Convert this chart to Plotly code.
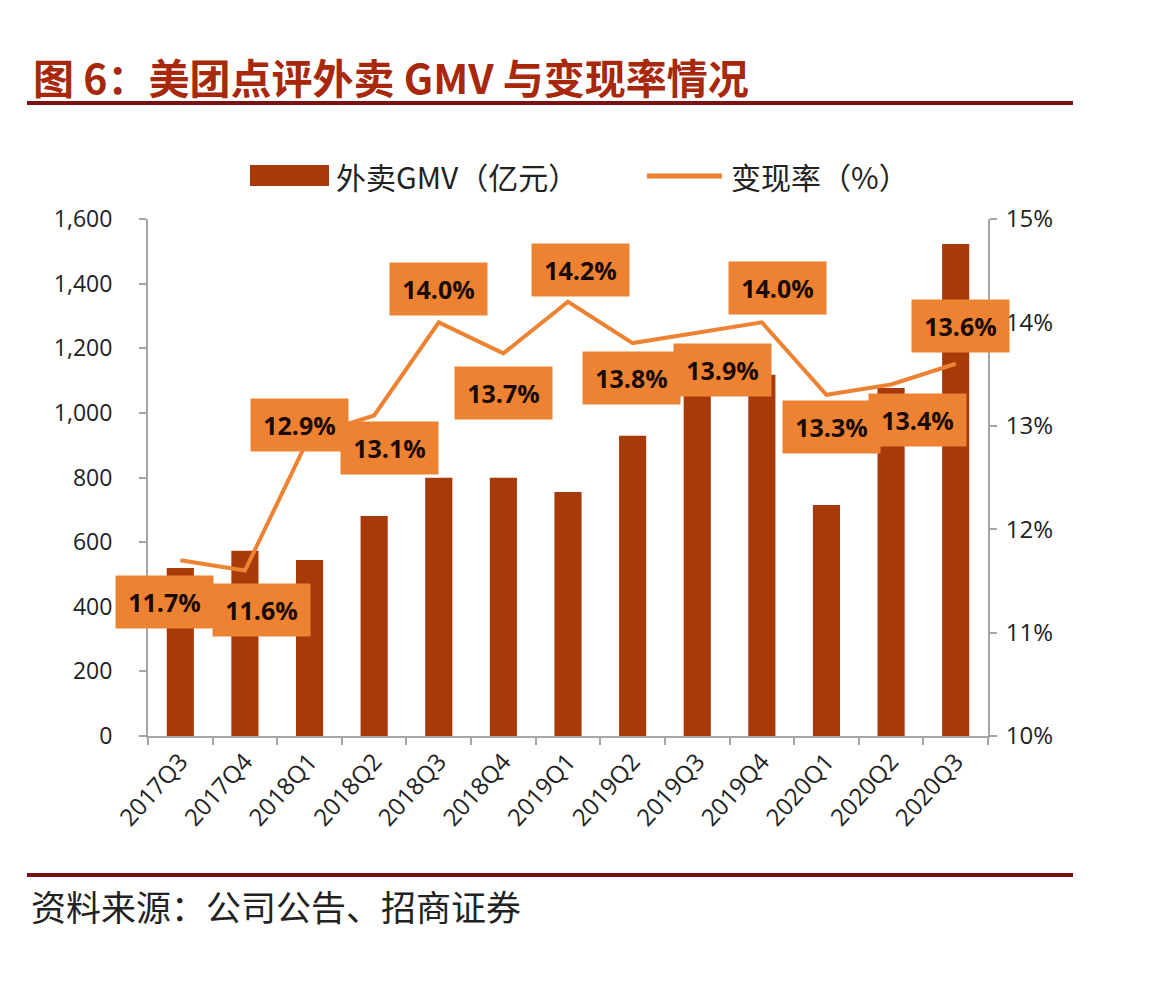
import plotly.graph_objects as go

categories = ["2017Q3", "2017Q4", "2018Q1", "2018Q2", "2018Q3", "2018Q4", "2019Q1",
              "2019Q2", "2019Q3", "2019Q4", "2020Q1", "2020Q2", "2020Q3"]
gmv = [520, 573, 545, 681, 799, 799, 755, 929, 1080, 1118, 715, 1077, 1523]
rate = [11.7, 11.6, 12.9, 13.1, 14.0, 13.7, 14.2, 13.8, 13.9, 14.0, 13.3, 13.4, 13.6]
rate_labels = ["11.7%", "11.6%", "12.9%", "13.1%", "14.0%", "13.7%", "14.2%",
               "13.8%", "13.9%", "14.0%", "13.3%", "13.4%", "13.6%"]
left_ticks = [0, 200, 400, 600, 800, 1000, 1200, 1400, 1600]
right_ticks = [10, 11, 12, 13, 14, 15]
right_tick_text = ["10%", "11%", "12%", "13%", "14%", "15%"]

# label offsets (pixels) relative to the data point
label_dx = [-16, 17, -10, 15, 0, 0, 12, -1, 25, 16, 5, 26, 5]
label_dy = [-42, -39, 11, -33, 33, -40, 32, -35, -37, 34, -32, -36, 38]

BAR = "#A83A0A"
ORANGE = "#EE8233"
AXIS = "#A6A6A6"
FONT = "Noto Sans CJK SC"

# page geometry (page has an 8px body margin)
OFF = 8
W, H = 1162 - 2 * OFF, 994 - 2 * OFF
L, R, T, B = 148, 988, 219, 736  # plot area in page pixels


def px(x):
    return (x - L) / (R - L)


def py(y):
    return (B - y) / (B - T)


fig = go.Figure()
fig.add_trace(go.Bar(x=categories, y=gmv, name="外卖GMV（亿元）", marker_color=BAR,
                     marker_line_width=0, showlegend=False))
fig.add_trace(go.Scatter(x=categories, y=rate, yaxis="y2", mode="lines",
                         line=dict(color=ORANGE, width=4), name="变现率（%）",
                         showlegend=False))

for c, r, t, dx, dy in zip(categories, rate, rate_labels, label_dx, label_dy):
    fig.add_annotation(x=c, y=r, xref="x", yref="y2", text="<b>" + t + "</b>",
                       showarrow=False, xshift=dx, yshift=dy, width=95, height=50,
                       bgcolor=ORANGE, font=dict(family="Open Sans", size=25, color="#1a0a05"))

# Title
fig.add_annotation(xref="paper", yref="paper", x=px(31), y=py(76), xanchor="left", yanchor="middle",
                   text="<b>图 6：美团点评外卖 GMV 与变现率情况</b>", showarrow=False,
                   font=dict(family=FONT, size=41, color="#A8280C"))
fig.add_shape(type="line", xref="paper", yref="paper", x0=px(27), x1=px(1073), y0=py(103), y1=py(103),
              line=dict(color="#7D1212", width=4))
# Legend
fig.add_shape(type="rect", xref="paper", yref="paper", x0=px(250), x1=px(329), y0=py(165), y1=py(186),
              fillcolor=BAR, line_width=0)
fig.add_annotation(xref="paper", yref="paper", x=px(334), y=py(176), xanchor="left", yanchor="middle",
                   text="外卖GMV（亿元）", showarrow=False, font=dict(family=FONT, size=30, color="#222"))
fig.add_shape(type="line", xref="paper", yref="paper", x0=px(647), x1=px(722), y0=py(176), y1=py(176),
              line=dict(color=ORANGE, width=5))
fig.add_annotation(xref="paper", yref="paper", x=px(729), y=py(176), xanchor="left", yanchor="middle",
                   text="变现率（%）", showarrow=False, font=dict(family=FONT, size=30, color="#222"))
# Footer
fig.add_shape(type="line", xref="paper", yref="paper", x0=px(27), x1=px(1073), y0=py(875), y1=py(875),
              line=dict(color="#7A1010", width=4))
fig.add_annotation(xref="paper", yref="paper", x=px(29), y=py(905), xanchor="left", yanchor="middle",
                   text="资料来源：公司公告、招商证券", showarrow=False,
                   font=dict(family=FONT, size=35, color="#222"))

fig.update_layout(
    width=W, height=H,
    margin=dict(l=L - OFF, r=(W + OFF) - R, t=T - OFF, b=(H + OFF) - B, pad=0),
    paper_bgcolor="white", plot_bgcolor="white",
    bargap=0.58,
    font=dict(family=FONT, color="#333"),
    xaxis=dict(type="category", range=[-0.5, len(categories) - 0.5], autorange=False,
               showline=True, linecolor=AXIS, linewidth=2,
               ticks="outside", tickson="boundaries", ticklen=7, tickcolor=AXIS, tickwidth=2,
               tickangle=-48, tickfont=dict(family="Open Sans", size=24, color="#222"),
               showgrid=False, zeroline=False),
    yaxis=dict(range=[0, 1600], autorange=False, tickvals=left_ticks, tickformat=",",
               showline=True, linecolor=AXIS, linewidth=2, ticks="outside", ticklen=7,
               tickcolor=AXIS, tickwidth=2, ticklabelstandoff=22,
               tickfont=dict(family="Open Sans", size=23, color="#222"), showgrid=False,
               zeroline=False),
    yaxis2=dict(range=[10, 15], autorange=False, tickvals=right_ticks, ticktext=right_tick_text,
                overlaying="y", side="right", showline=True, linecolor=AXIS, linewidth=2,
                ticks="outside", ticklen=7, tickcolor=AXIS, tickwidth=2, ticklabelstandoff=4,
                tickfont=dict(family="Open Sans", size=24, color="#222"), showgrid=False,
                zeroline=False),
)

fig.write_html("out.html")
